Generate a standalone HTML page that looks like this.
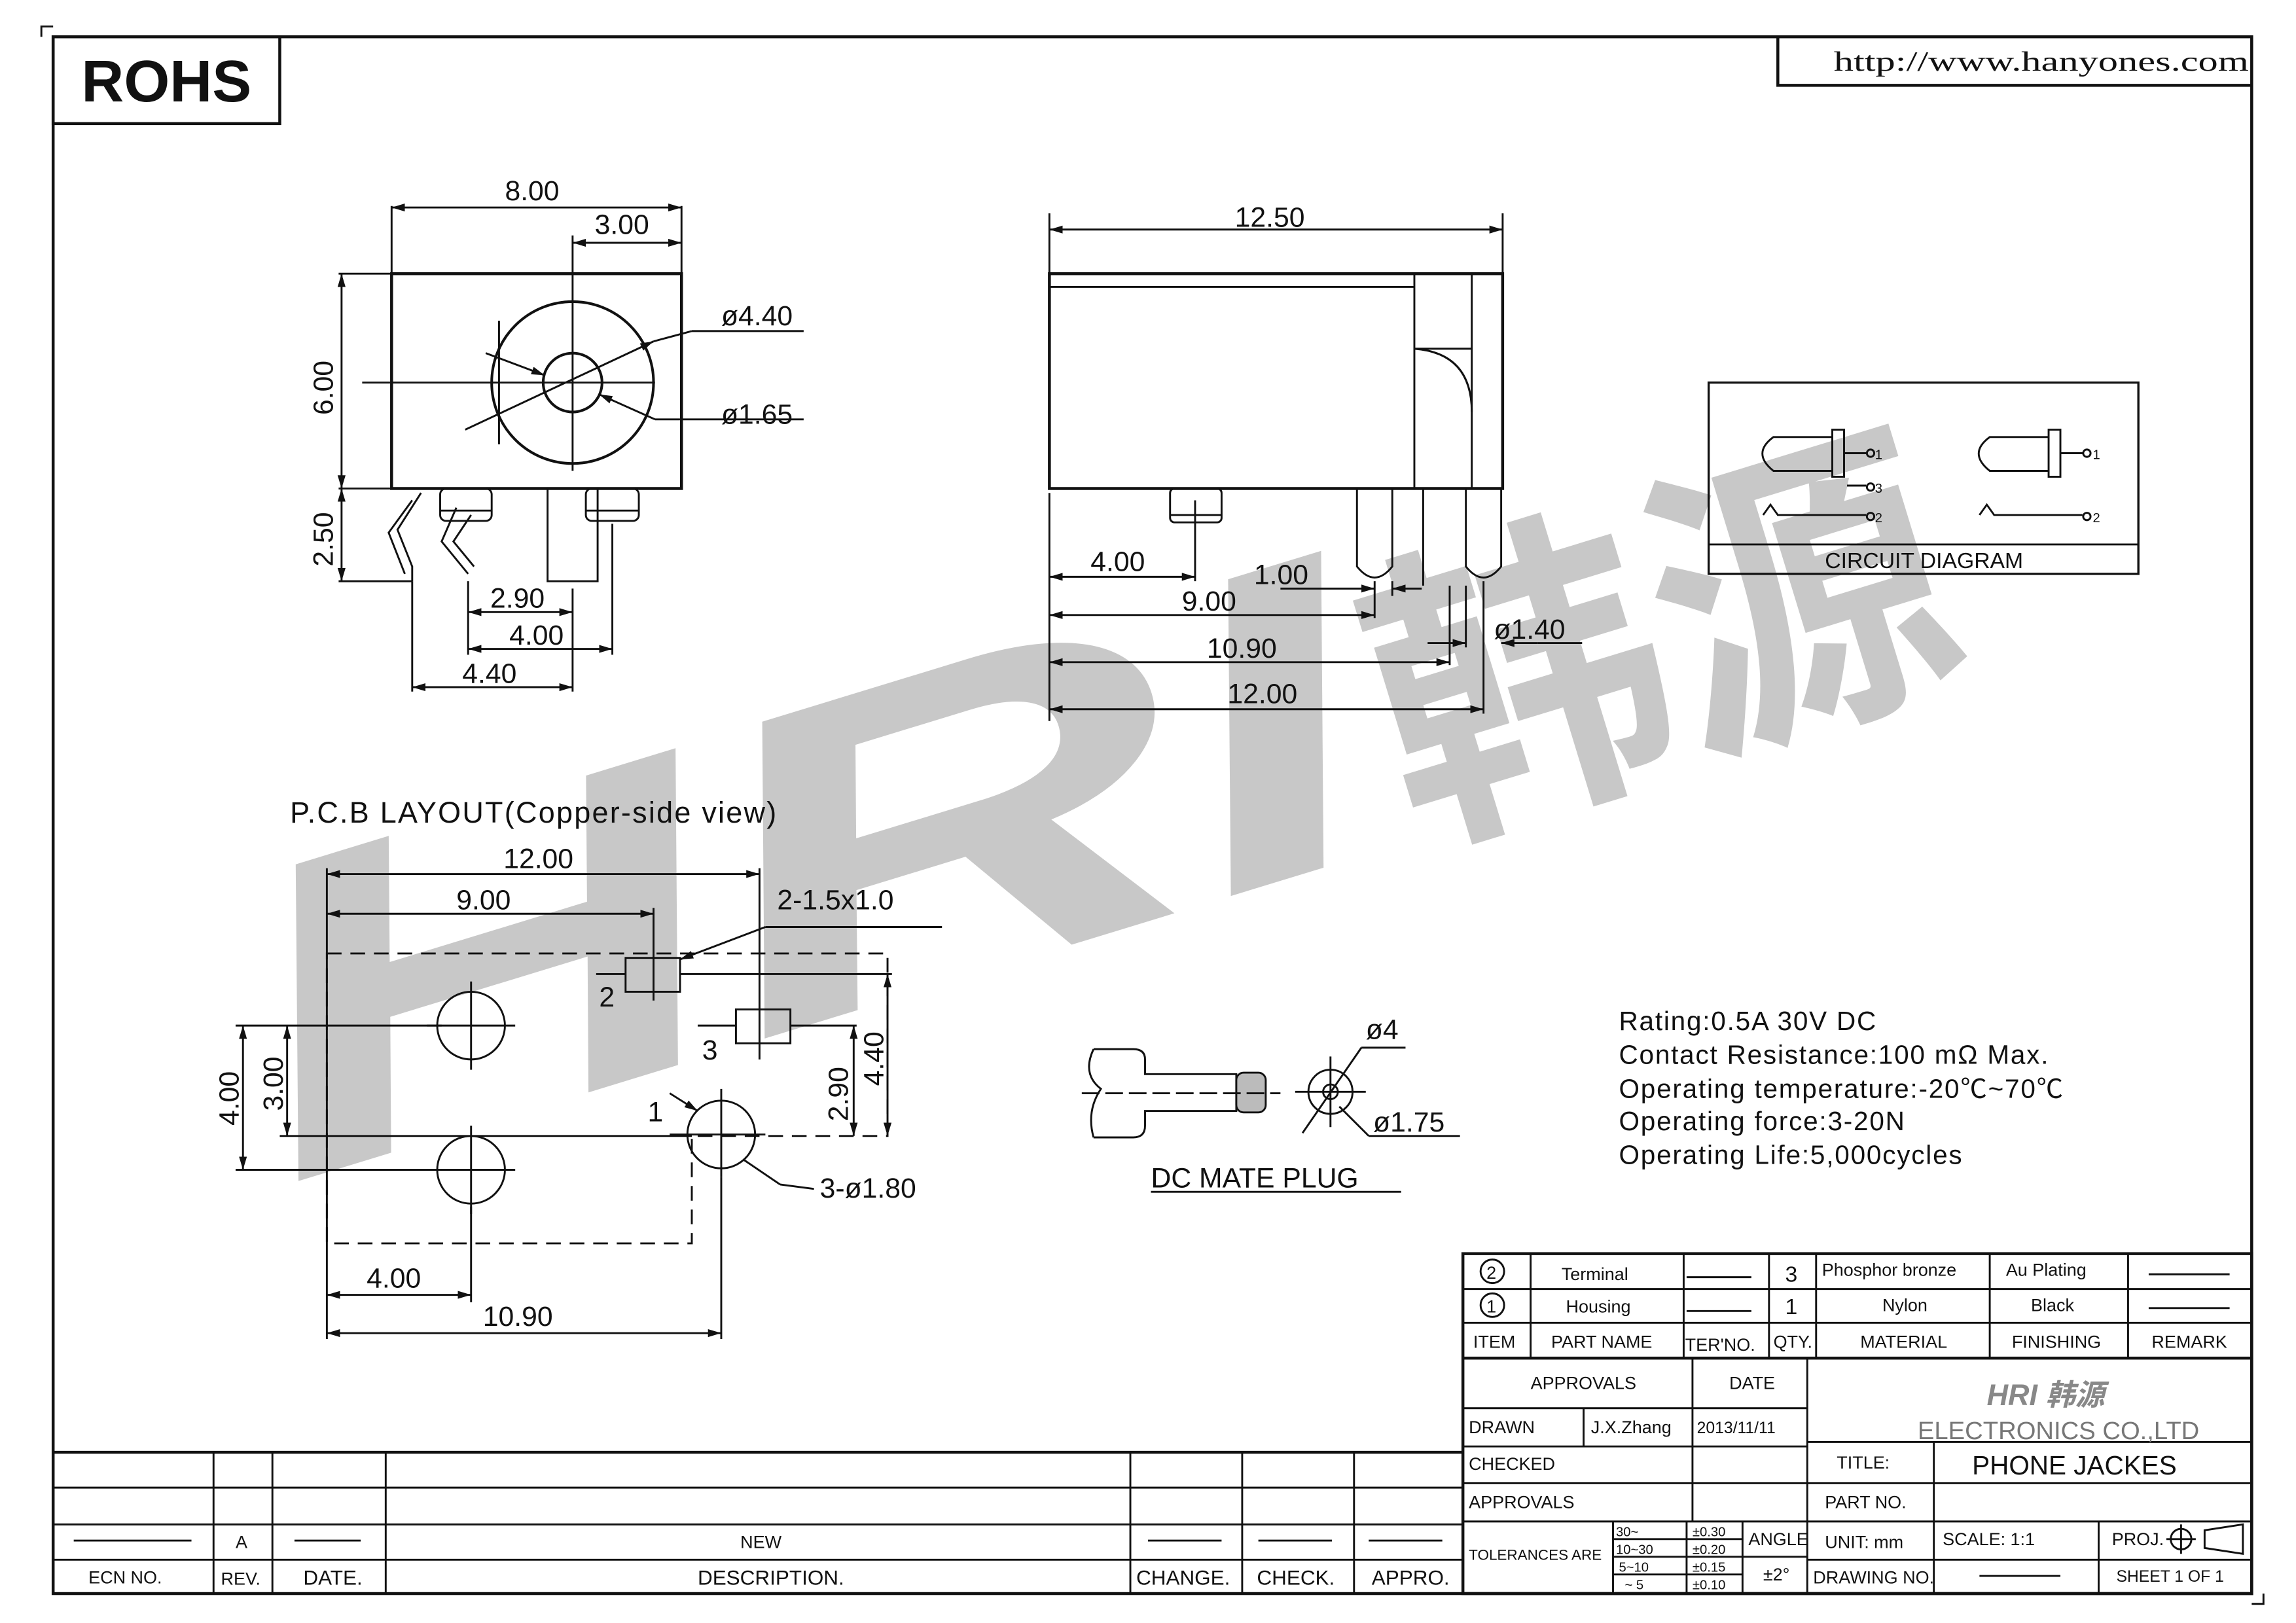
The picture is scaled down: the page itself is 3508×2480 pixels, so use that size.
<!DOCTYPE html>
<html><head><meta charset="utf-8"><style>
html,body{margin:0;padding:0;background:#fff}
svg{display:block}
text{font-family:"Liberation Sans","Noto Sans CJK SC",sans-serif;fill:#111}
.d{marker-start:url(#a);marker-end:url(#a)}
.e{marker-end:url(#a)}
</style></head><body>
<svg width="3508" height="2480" viewBox="0 0 1560 1103" xmlns="http://www.w3.org/2000/svg">
<defs>
<marker id="a" viewBox="0 0 10 10" refX="10" refY="5" markerWidth="9" markerHeight="9" markerUnits="userSpaceOnUse" orient="auto-start-reverse"><path d="M0 2 L10 5 L0 8 Z" fill="#111"/></marker>
</defs>
<rect width="1560" height="1103" fill="#fff"/>
<!-- watermark -->
<g transform="translate(195,805) rotate(-17)">
<text x="0" y="0" font-size="300" font-weight="bold" font-style="italic" style="fill:#c8c8c8" textLength="790" lengthAdjust="spacingAndGlyphs">HRI</text>
<text x="800" y="-5" font-size="215" font-weight="bold" style="fill:#c8c8c8" textLength="400" lengthAdjust="spacingAndGlyphs">韩源</text>
</g>
<g stroke="#111" fill="none" stroke-width="1.3">
<!-- frame -->
<polyline points="28,25 28,18 36,18"/>
<polyline points="1530,1090 1538,1090 1538,1083"/>
<rect x="36" y="25" width="1494" height="1058" stroke-width="2"/>
<rect x="36" y="25" width="154" height="59" stroke-width="2"/>
<polyline points="1208,25 1208,58 1530,58" stroke-width="2"/>
<!-- front view -->
<rect x="266" y="186" width="197" height="146" stroke-width="2"/>
<circle cx="389" cy="260" r="55" stroke-width="1.8"/>
<circle cx="389" cy="260" r="20" stroke-width="1.8"/>
<line x1="246" y1="260" x2="445" y2="260"/>
<line x1="389" y1="160" x2="389" y2="320"/>
<line x1="316" y1="292" x2="444" y2="232" class="e"/>
<line x1="470" y1="225" x2="444" y2="232"/>
<line x1="470" y1="225" x2="546" y2="225"/>
<line x1="330" y1="240" x2="370" y2="255" class="e"/>
<line x1="445" y1="285" x2="407" y2="268" class="e"/>
<line x1="445" y1="285" x2="546" y2="285"/>
<line x1="339" y1="218" x2="339" y2="302"/>
<line x1="266" y1="140" x2="266" y2="186"/>
<line x1="463" y1="140" x2="463" y2="186"/>
<line x1="266" y1="141" x2="463" y2="141" class="d"/>
<line x1="389" y1="165" x2="463" y2="165" class="d"/>
<line x1="230" y1="186" x2="266" y2="186"/>
<line x1="230" y1="332" x2="266" y2="332"/>
<line x1="232" y1="186" x2="232" y2="332" class="d"/>
<line x1="232" y1="332" x2="232" y2="395" class="d"/>
<line x1="230" y1="395" x2="280" y2="395"/>
<!-- pins front -->
<rect x="299" y="332" width="35" height="22" rx="4"/>
<line x1="299" y1="347" x2="334" y2="347"/>
<rect x="398" y="332" width="36" height="22" rx="4"/>
<line x1="398" y1="347" x2="434" y2="347"/>
<rect x="372" y="332" width="34" height="63"/>
<path d="M286 335 L270 360 L280 385 L280 395 M280 340 L264 362 L275 390"/>
<path d="M310 345 L300 368 L318 390 M320 350 L308 368 L322 385"/>
<line x1="280" y1="395" x2="280" y2="470"/>
<line x1="318" y1="395" x2="318" y2="445"/>
<line x1="389" y1="400" x2="389" y2="470"/>
<line x1="416" y1="356" x2="416" y2="445"/>
<line x1="318" y1="416" x2="389" y2="416" class="d"/>
<line x1="318" y1="441" x2="416" y2="441" class="d"/>
<line x1="280" y1="467" x2="389" y2="467" class="d"/>
<!-- side view -->
<rect x="713" y="186" width="308" height="146" stroke-width="2"/>
<line x1="713" y1="195" x2="961" y2="195"/>
<line x1="961" y1="186" x2="961" y2="332"/>
<line x1="1000" y1="186" x2="1000" y2="332"/>
<line x1="961" y1="237" x2="1000" y2="237"/>
<path d="M961 237 Q1000 240 1000 280"/>
<rect x="795" y="332" width="35" height="23" rx="3"/>
<line x1="795" y1="350" x2="830" y2="350"/>
<path d="M922 332 L922 385 Q934 400 946 385 L946 332"/>
<path d="M996 332 L996 385 Q1008 400 1020 385 L1020 332"/>
<line x1="967" y1="332" x2="967" y2="398"/>
<line x1="713" y1="156" x2="1021" y2="156" class="d"/>
<line x1="713" y1="145" x2="713" y2="186"/>
<line x1="1021" y1="145" x2="1021" y2="186"/>
<line x1="713" y1="335" x2="713" y2="490"/>
<line x1="812" y1="340" x2="812" y2="395"/>
<line x1="713" y1="392" x2="812" y2="392" class="d"/>
<line x1="713" y1="418" x2="934" y2="418" class="d"/>
<line x1="934" y1="395" x2="934" y2="420"/>
<line x1="946" y1="395" x2="946" y2="405"/>
<line x1="870" y1="400" x2="934" y2="400" class="e"/>
<line x1="966" y1="400" x2="946" y2="400" class="e"/>
<line x1="713" y1="450" x2="985" y2="450" class="d"/>
<line x1="985" y1="398" x2="985" y2="452"/>
<line x1="996" y1="398" x2="996" y2="440"/>
<line x1="1008" y1="395" x2="1008" y2="485"/>
<line x1="713" y1="482" x2="1008" y2="482" class="d"/>
<line x1="970" y1="437" x2="996" y2="437" class="e"/>
<line x1="1045" y1="437" x2="1020" y2="437" class="e"/>
<line x1="1045" y1="437" x2="1075" y2="437"/>
<!-- circuit -->
<rect x="1161" y="260" width="292" height="130" stroke-width="1.5"/>
<line x1="1161" y1="370" x2="1453" y2="370"/>
<path d="M1245 297 L1205 297 Q1190 308 1205 320 L1245 320"/>
<rect x="1245" y="292" width="8" height="32"/>
<line x1="1253" y1="308" x2="1268" y2="308"/>
<circle cx="1271" cy="308" r="2.5"/>
<line x1="1255" y1="330" x2="1268" y2="330"/>
<circle cx="1271" cy="331" r="2.5"/>
<path d="M1198 350 L1203 343 L1208 350 L1268 350"/>
<circle cx="1271" cy="351" r="2.5"/>
<path d="M1392 297 L1352 297 Q1337 308 1352 320 L1392 320"/>
<rect x="1392" y="292" width="8" height="32"/>
<line x1="1400" y1="308" x2="1415" y2="308"/>
<circle cx="1418" cy="308" r="2.5"/>
<path d="M1345 350 L1350 343 L1355 350 L1415 350"/>
<circle cx="1418" cy="351" r="2.5"/>
<!-- PCB -->
<path d="M222 648 L603 648 L603 772 L470 772 L470 845 L222 845 Z" stroke-dasharray="10,6"/>
<circle cx="320" cy="697" r="23"/><line x1="290" y1="697" x2="350" y2="697"/><line x1="320" y1="667" x2="320" y2="727"/>
<circle cx="320" cy="795" r="23"/><line x1="290" y1="795" x2="350" y2="795"/><line x1="320" y1="765" x2="320" y2="825"/>
<circle cx="490" cy="771" r="23"/><line x1="455" y1="771" x2="520" y2="771"/><line x1="490" y1="740" x2="490" y2="800"/>
<rect x="425" y="651" width="37" height="23"/>
<rect x="500" y="686" width="37" height="23"/>
<line x1="222" y1="590" x2="222" y2="910"/>
<line x1="222" y1="594" x2="516" y2="594" class="d"/>
<line x1="516" y1="590" x2="516" y2="720"/>
<line x1="222" y1="621" x2="444" y2="621" class="d"/>
<line x1="444" y1="617" x2="444" y2="680"/>
<line x1="520" y1="630" x2="462" y2="652" class="e"/><line x1="520" y1="630" x2="640" y2="630"/>
<line x1="405" y1="662" x2="425" y2="662"/>
<line x1="474" y1="697" x2="500" y2="697"/>
<line x1="160" y1="697" x2="300" y2="697"/>
<line x1="160" y1="795" x2="300" y2="795"/>
<line x1="195" y1="697" x2="195" y2="772" class="d"/>
<line x1="190" y1="772" x2="470" y2="772"/>
<line x1="165" y1="697" x2="165" y2="795" class="d"/>
<line x1="580" y1="697" x2="580" y2="772" class="d"/>
<line x1="537" y1="697" x2="582" y2="697"/>
<line x1="462" y1="662" x2="606" y2="662"/>
<line x1="603" y1="662" x2="603" y2="772" class="d"/>
<line x1="455" y1="743" x2="474" y2="755" class="e"/>
<line x1="505" y1="788" x2="530" y2="805"/><line x1="530" y1="805" x2="553" y2="808"/>
<line x1="222" y1="880" x2="320" y2="880" class="d"/>
<line x1="320" y1="820" x2="320" y2="885"/>
<line x1="222" y1="906" x2="490" y2="906" class="d"/>
<line x1="490" y1="800" x2="490" y2="910"/>
<!-- plug -->
<path d="M743 713 L770 713 Q778 713 778 720 L778 730 L840 730 L840 755 L778 755 L778 765 Q778 773 770 773 L743 773"/>
<path d="M743 713 Q735 730 748 740 Q738 755 743 773"/>
<rect x="840" y="729" width="20" height="27" rx="5" fill="#bbb"/>
<line x1="735" y1="743" x2="870" y2="743" stroke-dasharray="12,4"/>
<circle cx="904" cy="742" r="15"/><circle cx="904" cy="742" r="5"/>
<line x1="880" y1="742" x2="928" y2="742"/><line x1="904" y1="718" x2="904" y2="766"/>
<line x1="885" y1="770" x2="925" y2="712"/><line x1="925" y1="712" x2="955" y2="712"/>
<line x1="910" y1="752" x2="930" y2="772"/><line x1="930" y1="772" x2="992" y2="772"/>
<line x1="782" y1="810" x2="952" y2="810"/>
<!-- right table -->
<rect x="994" y="852" width="536" height="231" stroke-width="2"/>
<line x1="994" y1="876" x2="1530" y2="876"/>
<line x1="994" y1="899" x2="1530" y2="899"/>
<line x1="994" y1="923" x2="1530" y2="923" stroke-width="2"/>
<line x1="1040" y1="852" x2="1040" y2="923"/>
<line x1="1144" y1="852" x2="1144" y2="923"/>
<line x1="1202" y1="852" x2="1202" y2="923"/>
<line x1="1234" y1="852" x2="1234" y2="923"/>
<line x1="1352" y1="852" x2="1352" y2="923"/>
<line x1="1446" y1="852" x2="1446" y2="923"/>
<line x1="994" y1="957" x2="1228" y2="957"/>
<line x1="1150" y1="923" x2="1150" y2="1034"/>
<line x1="1228" y1="923" x2="1228" y2="1083"/>
<line x1="1076" y1="957" x2="1076" y2="983"/>
<line x1="994" y1="983" x2="1228" y2="983"/>
<line x1="1228" y1="980" x2="1530" y2="980"/>
<line x1="994" y1="1008" x2="1530" y2="1008"/>
<line x1="1314" y1="980" x2="1314" y2="1034"/>
<line x1="994" y1="1034" x2="1530" y2="1034"/>
<line x1="1096" y1="1034" x2="1096" y2="1083"/>
<line x1="1146" y1="1034" x2="1146" y2="1083"/>
<line x1="1184" y1="1034" x2="1184" y2="1083"/>
<line x1="1096" y1="1046" x2="1184" y2="1046"/>
<line x1="1096" y1="1058" x2="1228" y2="1058"/>
<line x1="1096" y1="1070" x2="1184" y2="1070"/>
<line x1="1228" y1="1060" x2="1530" y2="1060"/>
<line x1="1314" y1="1034" x2="1314" y2="1083"/>
<line x1="1426" y1="1034" x2="1426" y2="1083"/>
<line x1="1146" y1="868" x2="1190" y2="868"/><line x1="1146" y1="891" x2="1190" y2="891"/>
<line x1="1460" y1="866" x2="1515" y2="866"/><line x1="1460" y1="889" x2="1515" y2="889"/>
<line x1="1345" y1="1071" x2="1400" y2="1071"/>
<circle cx="1014" cy="864" r="8"/><circle cx="1014" cy="887" r="8"/>
<circle cx="1482" cy="1046" r="7"/><line x1="1472" y1="1046" x2="1492" y2="1046"/><line x1="1482" y1="1036" x2="1482" y2="1056"/>
<path d="M1498 1040 L1524 1036 L1524 1056 L1498 1052 Z"/>
<!-- left revision table -->
<line x1="36" y1="987" x2="994" y2="987" stroke-width="2"/>
<line x1="36" y1="1011" x2="994" y2="1011"/>
<line x1="36" y1="1036" x2="994" y2="1036"/>
<line x1="36" y1="1060" x2="994" y2="1060"/>
<line x1="145" y1="987" x2="145" y2="1083"/>
<line x1="185" y1="987" x2="185" y2="1083"/>
<line x1="262" y1="987" x2="262" y2="1083"/>
<line x1="768" y1="987" x2="768" y2="1083"/>
<line x1="844" y1="987" x2="844" y2="1083"/>
<line x1="920" y1="987" x2="920" y2="1083"/>
<line x1="50" y1="1047" x2="130" y2="1047"/><line x1="200" y1="1047" x2="245" y2="1047"/>
<line x1="780" y1="1047" x2="830" y2="1047"/><line x1="855" y1="1047" x2="905" y2="1047"/><line x1="930" y1="1047" x2="980" y2="1047"/>
</g>
<!-- texts -->
<text x="113" y="69" font-size="40" font-weight="bold" text-anchor="middle">ROHS</text>
<text x="1246" y="48" font-size="19" style="font-family:'Liberation Serif',serif" textLength="282" lengthAdjust="spacingAndGlyphs">http://www.hanyones.com</text>
<g font-size="19">
<text x="343" y="136">8.00</text>
<text x="404" y="159">3.00</text>
<text x="490" y="221">ø4.40</text>
<text x="490" y="288">ø1.65</text>
<text x="226" y="282" transform="rotate(-90 226 282)">6.00</text>
<text x="226" y="385" transform="rotate(-90 226 385)">2.50</text>
<text x="333" y="413">2.90</text>
<text x="346" y="438">4.00</text>
<text x="314" y="464">4.40</text>
<text x="839" y="154">12.50</text>
<text x="741" y="388">4.00</text>
<text x="852" y="397">1.00</text>
<text x="803" y="415">9.00</text>
<text x="820" y="447">10.90</text>
<text x="1015" y="434">ø1.40</text>
<text x="834" y="478">12.00</text>
<text x="197" y="559" font-size="20" style="letter-spacing:1px">P.C.B LAYOUT(Copper-side view)</text>
<text x="342" y="590">12.00</text>
<text x="310" y="618">9.00</text>
<text x="528" y="618">2-1.5x1.0</text>
<text x="407" y="684">2</text>
<text x="477" y="720">3</text>
<text x="440" y="762">1</text>
<text x="557" y="814">3-ø1.80</text>
<text x="162" y="765" transform="rotate(-90 162 765)">4.00</text>
<text x="192" y="755" transform="rotate(-90 192 755)">3.00</text>
<text x="576" y="762" transform="rotate(-90 576 762)">2.90</text>
<text x="600" y="738" transform="rotate(-90 600 738)">4.40</text>
<text x="249" y="875">4.00</text>
<text x="328" y="901">10.90</text>
<text x="928" y="706">ø4</text>
<text x="933" y="769">ø1.75</text>
<text x="782" y="807">DC MATE PLUG</text>
</g>
<g font-size="15">
<text x="1240" y="386">CIRCUIT  DIAGRAM</text>
</g>
<g font-size="9">
<text x="1274" y="312">1</text><text x="1274" y="335">3</text><text x="1274" y="355">2</text>
<text x="1422" y="312">1</text><text x="1422" y="355">2</text>
</g>
<g font-size="18" style="letter-spacing:0.8px">
<text x="1100" y="700">Rating:0.5A 30V DC</text>
<text x="1100" y="723">Contact Resistance:100 mΩ Max.</text>
<text x="1100" y="746">Operating temperature:-20℃~70℃</text>
<text x="1100" y="768">Operating force:3-20N</text>
<text x="1100" y="791">Operating Life:5,000cycles</text>
</g>
<g font-size="12">
<text x="1010" y="869">2</text><text x="1010" y="892">1</text>
<text x="1061" y="870">Terminal</text><text x="1064" y="892">Housing</text>
<text x="1213" y="871" font-size="15">3</text><text x="1213" y="893" font-size="15">1</text>
<text x="1238" y="867">Phosphor bronze</text><text x="1279" y="891">Nylon</text>
<text x="1363" y="867">Au Plating</text><text x="1380" y="891">Black</text>
<text x="1001" y="916">ITEM</text><text x="1054" y="916">PART NAME</text><text x="1145" y="918">TER'NO.</text><text x="1205" y="916">QTY.</text>
<text x="1264" y="916">MATERIAL</text><text x="1367" y="916">FINISHING</text><text x="1462" y="916">REMARK</text>
<text x="1040" y="944">APPROVALS</text><text x="1175" y="944">DATE</text>
<text x="998" y="974">DRAWN</text><text x="1081" y="974">J.X.Zhang</text><text x="1153" y="974" font-size="11">2013/11/11</text>
<text x="998" y="999">CHECKED</text><text x="998" y="1025">APPROVALS</text>
<text x="1248" y="998">TITLE:</text><text x="1340" y="1002" font-size="18">PHONE JACKES</text>
<text x="1240" y="1025">PART NO.</text>
<text x="1303" y="978" font-size="17" style="fill:#777">ELECTRONICS CO.,LTD</text>
<text x="1350" y="955" font-size="20" font-weight="bold" font-style="italic" style="fill:#888">HRI 韩源</text>
<text x="998" y="1060" font-size="10">TOLERANCES ARE</text>
<text x="1098" y="1044" font-size="9">30~</text><text x="1098" y="1056" font-size="9">10~30</text><text x="1100" y="1068" font-size="9">5~10</text><text x="1104" y="1080" font-size="9">~ 5</text>
<text x="1150" y="1044" font-size="9">±0.30</text><text x="1150" y="1056" font-size="9">±0.20</text><text x="1150" y="1068" font-size="9">±0.15</text><text x="1150" y="1080" font-size="9">±0.10</text>
<text x="1188" y="1050">ANGLE</text><text x="1198" y="1074">±2°</text>
<text x="1240" y="1052">UNIT: mm</text><text x="1320" y="1050">SCALE:   1:1</text><text x="1435" y="1050">PROJ.</text>
<text x="1232" y="1076">DRAWING NO.</text><text x="1438" y="1075" font-size="11">SHEET  1 OF 1</text>
<text x="160" y="1052">A</text><text x="503" y="1052">NEW</text>
<text x="60" y="1076">ECN NO.</text><text x="150" y="1077">REV.</text><text x="206" y="1077" font-size="14">DATE.</text>
<text x="474" y="1077" font-size="14">DESCRIPTION.</text><text x="772" y="1077" font-size="14">CHANGE.</text>
<text x="854" y="1077" font-size="14">CHECK.</text><text x="932" y="1077" font-size="14">APPRO.</text>
</g>
</svg>
</body></html>
